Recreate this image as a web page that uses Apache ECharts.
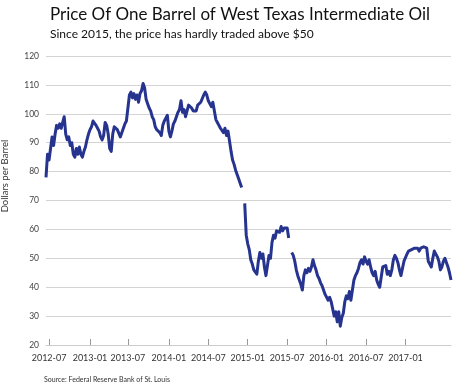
<!DOCTYPE html>
<html><head><meta charset="utf-8">
<script src="https://cdn.jsdelivr.net/npm/echarts@6/dist/echarts.min.js"></script>
<style>html,body{margin:0;padding:0;background:#fff}#c{width:453px;height:382px}</style>
</head><body><div id="c"></div>
<script>
// Weekly WTI closes (USD/barrel), first week 2012-06-15, one value per week
const firstWeek = '2012-06-15';
const prices2012 = [78,86,84,88,92,89,93,96,95,96.5,95,97,99,93,91,92,89,90,86,85,88,86,88.5,86,85,87,88.5,91,93];
const prices2013 = [94.5,95.5,97.5,97,96,95,94,92,91,92.5,97,96,93,88,87,93,95.5,96,94.5,95,92,91.5,95,96.5,97.5,102,106.5,107.5,105.5,107,105,106.5,104,107,108,110.5,109,105,103.5,102,101,99,98,95.5,94.5,94,93.5,92.5,96,97.5,98.5,99.5];
const prices2014 = [94,92,94,96.5,97.5,98,100.5,101.5,104.5,100.5,101.5,99,101,103,103.5,102,101,100.5,101,103,103.5,104,104.5,106.5,107.5,106.5,104.5,105,102.5,104,101,98,97,96,95,94.5,93.5,95,92.5,94,90.5,87,84,82.5,80.5,79,77.5,76,74.5,null,69,58];
const prices2015 = [55,53,49.5,48,46,45.5,44.5,49,52,50,51.5,47,44,47.5,51,50,55.5,58,57,59.5,60,59,61,59.5,60.5,60,60.5,57,null,52,51,49,46,44,42.5,41,39,44,46,45,46.5,45.5,47,49.5,47.5,46,44,43,41.5,40.5,40,37.5];
const prices2016 = [36.5,35.5,36.5,35,32.5,30,31.5,28,31.5,26.5,29.5,31,35,37,36,38.5,35.5,39,42.5,44,45,46.5,48.5,49.5,48,50.5,49,48,49.5,47,45,44,45.5,42.5,41,40,43.5,47,46.5,47.5,44.5,45.5,44,46,49.5,51,50,48.5,46,44,44.5,49];
const prices2017 = [49.5,51.5,52.5,52,53,52.5,53.5,53,53.5,52.5,53.5,53,54,53.5,53.5,49,48,47,50,52.5,52,50.5,49,46,47,49,50,48.5,47,45,42.5];
const xTickLabels = ['2012-07','2013-01','2013-07','2014-01','2014-07','2015-01','2015-07','2016-01','2016-07','2017-01'];
const yMin = 20, yMax = 120, yStep = 10;

const prices = [].concat(prices2012, prices2013, prices2014, prices2015, prices2016, prices2017);
const DAY = 86400000;
const t0 = Date.UTC(+firstWeek.slice(0,4), +firstWeek.slice(5,7)-1, +firstWeek.slice(8,10));
const fmt = t => new Date(t).toISOString().slice(0,10);
const weeks = prices.map((_, i) => fmt(t0 + i*7*DAY));

// index of the week nearest to the first day of each labelled month
const labelAt = {};
xTickLabels.forEach(lab => {
  const m = Date.UTC(+lab.slice(0,4), +lab.slice(5,7)-1, 1);
  let best = 0, bd = Infinity;
  weeks.forEach((w, i) => { const d = Math.abs(t0 + i*7*DAY - m); if (d < bd) { bd = d; best = i; } });
  labelAt[best] = lab;
});
const showIdx = (i) => labelAt[i] !== undefined;

const chart = echarts.init(document.getElementById('c'), null, {renderer:'canvas'});
const FONT = 'Lato';
chart.setOption({
  animation: false,
  backgroundColor: '#ffffff',
  title: [{
    text: 'Price Of One Barrel of West Texas Intermediate Oil',
    subtext: 'Since 2015, the price has hardly traded above $50',
    left: 45, top: 1, itemGap: 5,
    textStyle: {fontFamily: FONT, fontSize: 17, fontWeight: 'normal', color: '#111'},
    subtextStyle: {fontFamily: FONT, fontSize: 12, color: '#111'}
  }, {
    text: 'Source: Federal Reserve Bank of St. Louis',
    left: 39, top: 371,
    textStyle: {fontFamily: FONT, fontSize: 7, fontWeight: 'normal', color: '#333'}
  }],
  graphic: [{
    type: 'text', x: 5, y: 176, rotation: Math.PI/2,
    style: {text: 'Dollars per Barrel', fontFamily: FONT, fontSize: 9.5, fill: '#333', align: 'center', verticalAlign: 'middle'}
  }],
  grid: {left: 46, right: 2, top: 56, bottom: 37, containLabel: false, outerBoundsMode: 'none'},
  xAxis: {
    type: 'category', data: weeks, boundaryGap: false,
    axisLine: {show: true, lineStyle: {color: '#cccccc', width: 1}},
    axisTick: {show: true, inside: true, length: 6, interval: showIdx, lineStyle: {color: '#999'}},
    axisLabel: {interval: showIdx, formatter: (v, i) => labelAt[i] || '', fontFamily: FONT, fontSize: 9, color: '#333', margin: 9},
    splitLine: {show: false}
  },
  yAxis: {
    type: 'value', min: yMin, max: yMax, interval: yStep,
    axisLine: {show: false}, axisTick: {show: false},
    axisLabel: {fontFamily: FONT, fontSize: 8.5, color: '#444', margin: 7},
    splitLine: {lineStyle: {color: '#d4d4d4', width: 1}}
  },
  series: [{
    type: 'line', data: prices, showSymbol: false, connectNulls: false, sampling: null,
    lineStyle: {color: '#26348f', width: 3, join: 'round'},
    itemStyle: {color: '#26348f'}
  }]
});
</script>
</body></html>
